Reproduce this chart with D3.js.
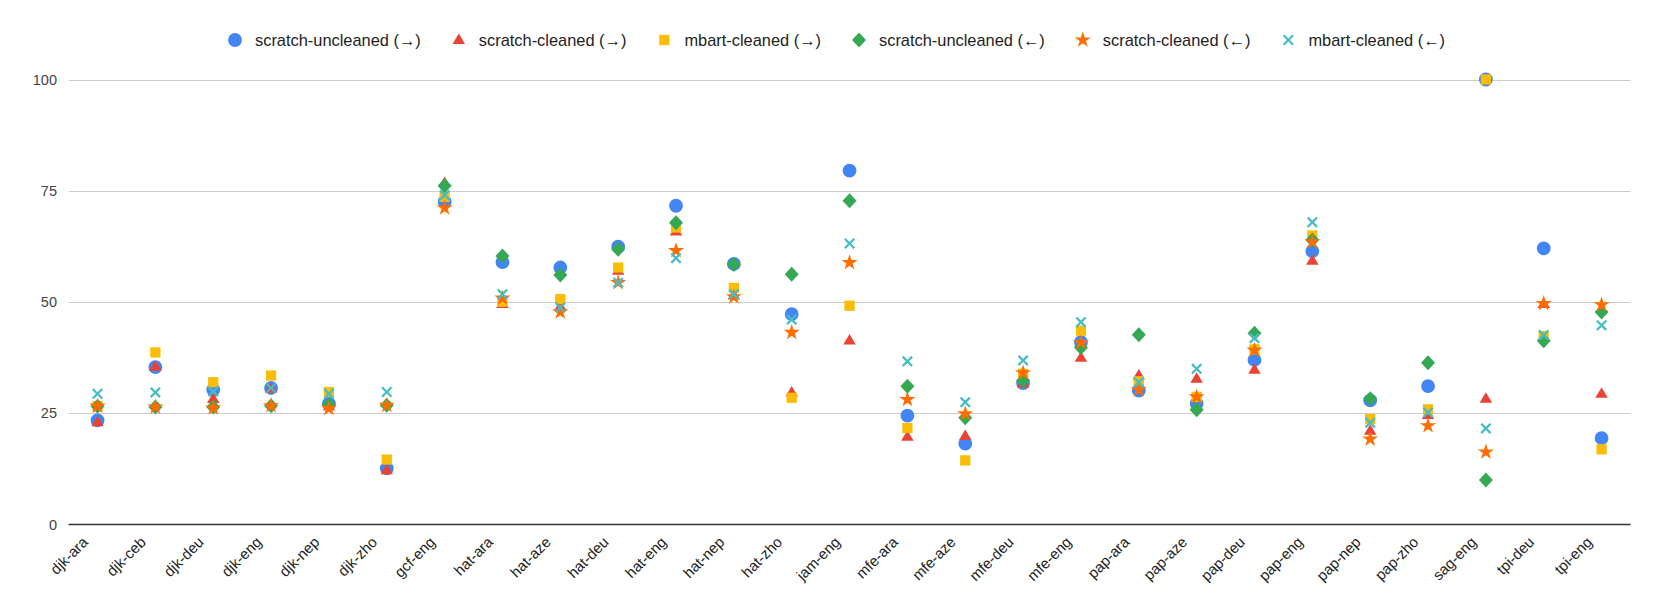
<!DOCTYPE html>
<html><head><meta charset="utf-8">
<script src="https://cdn.jsdelivr.net/npm/d3@7"></script>
<style>html,body{margin:0;padding:0;background:#fff;}svg{display:block;}</style>
</head><body>
<svg id="chart" width="1661" height="615"></svg>
<script>
const categories = ["djk-ara","djk-ceb","djk-deu","djk-eng","djk-nep","djk-zho","gcf-eng","hat-ara","hat-aze","hat-deu","hat-eng","hat-nep","hat-zho","jam-eng","mfe-ara","mfe-aze","mfe-deu","mfe-eng","pap-ara","pap-aze","pap-deu","pap-eng","pap-nep","pap-zho","sag-eng","tpi-deu","tpi-eng"];
const seriesNames = ["scratch-uncleaned (→)","scratch-cleaned (→)","mbart-cleaned (→)","scratch-uncleaned (←)","scratch-cleaned (←)","mbart-cleaned (←)"];
const scratchUncleanedFwd = [23.3,35.3,30.2,30.6,27.1,12.5,72.5,58.9,57.7,62.4,71.6,58.5,47.2,79.5,24.4,18.1,31.7,40.9,30.0,27.1,36.9,61.4,27.8,31.0,100,62.0,19.3];
const scratchCleanedFwd   = [22.9,35.4,28.1,30.4,26.5,12.1,76.7,49.5,48.9,57.0,65.8,51.4,29.6,41.3,19.6,19.8,31.6,37.4,33.4,32.7,34.7,59.2,21.0,24.5,28.2,49.5,29.3];
const mbartCleanedFwd     = [26.5,38.6,31.9,33.4,29.7,14.5,73.6,50.0,50.6,57.7,66.7,53.1,28.4,49.1,21.6,14.3,33.8,43.5,32.1,28.6,39.3,64.9,23.6,25.8,100,42.3,16.8];
const scratchUncleanedBwd = [26.5,26.3,26.3,26.6,26.9,26.7,76.1,60.3,56.0,61.8,67.8,58.4,56.2,72.7,31.0,23.9,32.3,39.7,42.6,25.7,42.9,63.9,28.2,36.3,9.9,41.2,47.7];
const scratchCleanedBwd   = [26.5,26.3,26.1,26.6,26.0,26.7,71.1,50.8,47.7,54.3,61.5,51.1,43.1,58.8,28.0,24.8,34.0,40.8,30.2,28.6,39.1,63.5,19.1,22.1,16.2,49.6,49.3];
const mbartCleanedBwd     = [29.3,29.6,29.8,30.6,29.3,29.7,74.0,51.7,48.7,54.3,59.8,51.7,46.0,63.1,36.6,27.4,36.8,45.4,31.9,34.9,41.8,67.9,22.8,25.1,21.5,42.5,44.7];
const yTicks = [0,25,50,75,100];

const seriesValues = [scratchUncleanedFwd,scratchCleanedFwd,mbartCleanedFwd,scratchUncleanedBwd,scratchCleanedBwd,mbartCleanedBwd];
const colors = ["#4285F4","#EA4335","#FBBC04","#34A853","#FF6D01","#46BDC6"];
const FONT = "Arial, 'Liberation Sans', sans-serif";

const svg = d3.select("#chart");
const x = d3.scalePoint().domain(categories).range([68.6,1630.5]).padding(0.5);
const y = d3.scaleLinear().domain([0,100]).range([524,79.5]);

// gridlines
svg.append("g").selectAll("line").data(yTicks.filter(t=>t>0)).join("line")
  .attr("x1",68.6).attr("x2",1630.5)
  .attr("y1",d=>Math.round(y(d))+0.5).attr("y2",d=>Math.round(y(d))+0.5)
  .attr("stroke","#cccccc").attr("stroke-width",1);
// baseline
svg.append("line").attr("x1",68.6).attr("x2",1630.5)
  .attr("y1",Math.round(y(0))+0.5).attr("y2",Math.round(y(0))+0.5)
  .attr("stroke","#333333").attr("stroke-width",1.3);

// y axis labels
const yAxis = d3.axisLeft(y).tickValues(yTicks).tickSize(0).tickPadding(0);
const gy = svg.append("g").attr("transform","translate(57,0)").call(yAxis);
gy.select(".domain").remove();
gy.selectAll("text").attr("font-family",FONT).attr("font-size",14.5).attr("fill","#444444").attr("dy","0.35em");

// x axis labels
svg.append("g").selectAll("text").data(categories).join("text")
  .attr("transform",d=>`translate(${x(d)-8.5},${543}) rotate(-45)`)
  .attr("text-anchor","end")
  .attr("font-family",FONT).attr("font-size",15).attr("fill","#222222")
  .text(d=>d);

// symbols
function crossPath(s){ // thin X
  const a = s, w = 1.6;
  return `M${-a},${-a+w} L${-a+w},${-a} L0,${-w} L${a-w},${-a} L${a},${-a+w} L${w},0 L${a},${a-w} L${a-w},${a} L0,${w} L${-a+w},${a} L${-a},${a-w} L${-w},0 Z`;
}
const shapes = [
  ()=>d3.symbol(d3.symbolCircle,150)(),
  ()=>{const h=10.5,w=12.5;return `M0,${-h*0.62} L${w/2},${h*0.38} L${-w/2},${h*0.38} Z`;},
  ()=>d3.symbol(d3.symbolSquare,105)(),
  ()=>"M0,-7.5 L7,0 L0,7.5 L-7,0 Z",
  ()=>d3.symbol(d3.symbolStar,80)(),
  ()=>crossPath(5.5)
];

const gPts = svg.append("g");
seriesValues.forEach((vals,si)=>{
  gPts.append("g").selectAll("path").data(vals.map((v,i)=>({c:categories[i],v}))).join("path")
    .attr("d",shapes[si]())
    .attr("transform",d=>`translate(${x(d.c)},${y(d.v)})`)
    .attr("fill",colors[si]);
});

// legend
const leg = svg.append("g").attr("transform","translate(0,40)");
let cx = 235;
seriesNames.forEach((name,si)=>{
  leg.append("path").attr("d",shapes[si]()).attr("transform",`translate(${cx},0)`).attr("fill",colors[si]);
  const t = leg.append("text").attr("x",cx+20).attr("y",0).attr("dy","0.35em")
    .attr("font-family",FONT).attr("font-size",16.4).attr("fill","#222222").text(name);
  const w = t.node().getComputedTextLength();
  cx = cx + 20 + w + 38;
});
</script>
</body></html>
